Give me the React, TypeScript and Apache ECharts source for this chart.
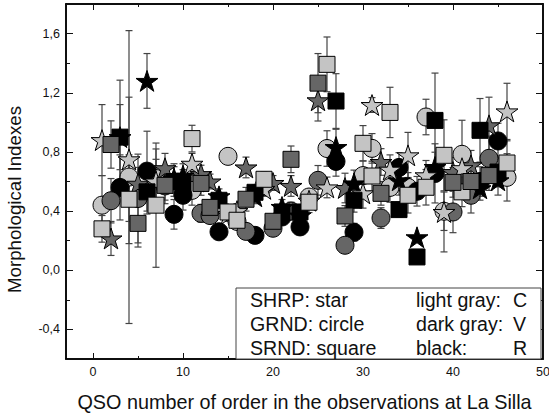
import React, { useEffect, useRef } from "react";
import * as echarts from "echarts";

const filters = ["L","D","K","L","D","K","L","D","K","K","L","D","D","K","L","L","D","K","L","D","K","D","K","L","D","L","K","D","K","L","L","D","L","K","L","K","L","K","L","D","L","D","K","D","K","L"];
const starValues = [0.88,0.215,0.9,0.75,0.585,1.28,0.6,0.69,0.62,0.64,0.72,0.65,0.6,0.5,0.38,0.4,0.695,0.5,0.55,0.59,0.428,0.57,0.37,0.47,1.149,0.56,0.833,0.556,0.587,0.52,1.117,0.732,0.68,0.608,0.777,0.223,0.642,0.698,0.394,0.664,0.69,0.71,0.554,0.98,0.608,1.074];
const starErrors = [0.24,0.115,0.385,0.42,0.11,0.185,0.15,0.1,0.1,0.08,0.07,0.06,0.05,0.05,0.05,0.05,0.07,0.05,0.05,0.05,0.05,0.07,0.05,0.04,0.14,0.07,0.12,0.1,0.09,0.1,0.05,0.09,0.1,0.1,0.155,0,0.1,0.1,0.27,0.1,0.12,0.1,0.08,0.19,0.1,0.19];
const circleValues = [0.44,0.47,0.56,0.63,0.485,0.67,0.62,0.57,0.378,0.507,0.54,0.385,0.37,0.26,0.77,0.33,0.263,0.236,0.57,0.284,0.36,0.4,0.293,0.495,0.608,0.823,0.736,0.169,0.257,0.64,0.824,0.353,0.56,0.695,0.56,0.534,1.036,0.655,0.399,0.394,0.784,0.507,0.6,0.757,0.874,0.628];
const circleErrors = [0.2,0.15,0.22,0.99,0.3,0.27,0.2,0.12,0.1,0.1,0.1,0.06,0.05,0.05,0.05,0.05,0.05,0.03,0.05,0.05,0.05,0.06,0.05,0.05,0.1,0.12,0.1,0.05,0.06,0.1,0.1,0.07,0.1,0.1,0.1,0.1,0.12,0.2,0.13,0.14,0.23,0.12,0.1,0.15,0.12,0.16];
const squareValues = [0.28,0.85,0.9,0.48,0.317,0.53,0.44,0.574,0.6,0.58,0.89,0.587,0.425,0.473,0.394,0.338,0.48,0.527,0.615,0.331,0.394,0.75,0.394,0.46,1.265,1.392,1.144,0.367,0.473,0.858,0.637,0.52,1.067,0.41,0.507,0.09,0.561,1.013,0.777,0.594,0.53,0.6,0.946,0.64,0.664,0.725];
const squareErrors = [0.09,0.16,0.22,0.3,0.16,0.15,0.42,0.1,0.1,0.1,0.09,0.08,0.05,0.05,0.05,0.05,0.08,0.05,0.05,0.04,0.05,0.09,0.05,0.07,0.2,0.185,0.185,0.07,0.08,0.12,0.1,0.08,0.17,0.05,0.12,0,0.12,0.32,0.24,0.1,0.1,0.1,0.215,0.1,0.1,0.15];

const xMajorTicks = [0,10,20,30,40,50];
const xMinorTicks = [5,15,25,35,45];
const yMajorTicks = [-0.4,0,0.4,0.8,1.2,1.6];
const yMinorTicks = [-0.6,-0.2,0.2,0.6,1.0,1.4,1.8];
const legendLeft = ["SHRP: star","GRND: circle","SRND: square"];
const legendMiddle = ["light gray:","dark gray:","black:"];
const legendRight = ["C","V","R"];

const FONT = "'Liberation Sans', Arial, sans-serif";
const colors: Record<string,string> = { L: "#c4c4c4", D: "#666666", K: "#000000" };
const STAR = "path://M50 0 L61.8 35.3 L98.9 35.3 L69 57.3 L80.3 92.7 L50 70.6 L19.7 92.7 L31 57.3 L1.1 35.3 L38.2 35.3 Z";
const shapes: Record<string,any> = {
  star: { values: starValues, errors: starErrors, symbol: STAR, size: 22 },
  circle: { values: circleValues, errors: circleErrors, symbol: "circle", size: 18 },
  square: { values: squareValues, errors: squareErrors, symbol: "rect", size: 16 },
};
const layers: [string,string][] = [
  ["circle","L"],["circle","K"],["circle","D"],
  ["star","D"],["star","K"],["star","L"],
  ["square","K"],["square","L"],["square","D"],
];

function rows(shape: string, filter: string) {
  const s = shapes[shape];
  const out: number[][] = [];
  filters.forEach((f, i) => { if (f === filter) out.push([i + 1, s.values[i], s.errors[i]]); });
  return out;
}

function errorRender(_p: any, api: any) {
  const x = api.value(0), y = api.value(1), e = api.value(2);
  if (!e) return { type: "group", children: [] };
  const top = api.coord([x, y + e]), bot = api.coord([x, y - e]);
  const st = { stroke: "#444", lineWidth: 1.2 };
  const cap = 3.5;
  return { type: "group", children: [
    { type: "line", shape: { x1: top[0], y1: top[1], x2: bot[0], y2: bot[1] }, style: st },
    { type: "line", shape: { x1: top[0]-cap, y1: top[1], x2: top[0]+cap, y2: top[1] }, style: st },
    { type: "line", shape: { x1: bot[0]-cap, y1: bot[1], x2: bot[0]+cap, y2: bot[1] }, style: st },
  ]};
}

function axis(base: any, position: string, ticks: number[], len: number, labels: boolean, isY: boolean, name?: any) {
  return {
    ...base, position, ...(name || {}),
    axisLine: { show: true, onZero: false, lineStyle: { color: "#000", width: 1.5 } },
    axisTick: { show: true, inside: true, length: len, customValues: ticks, lineStyle: { color: "#111", width: 1 } },
    axisLabel: labels
      ? { show: true, customValues: ticks, color: "#111", fontSize: 12.5, fontFamily: FONT, margin: 6,
          hideOverlap: false, showMinLabel: true, showMaxLabel: true,
          formatter: (v: number) => isY ? v.toFixed(1).replace(".", ",") : String(v) }
      : { show: false },
    splitLine: { show: false },
  };
}

export default function App() {
  const ref = useRef<HTMLDivElement>(null);
  useEffect(() => {
    const chart = echarts.init(ref.current!, undefined, { renderer: "svg" });
    const xBase = { type: "value", min: -3, max: 50 };
    const yBase = { type: "value", min: -0.6, max: 1.8 };
    const xName = { name: "QSO number of order in the observations at La Silla", nameLocation: "middle", nameGap: 33,
      nameTextStyle: { fontSize: 19.8, fontFamily: FONT, color: "#111" } };
    const yName = { name: "Morphological Indexes", nameLocation: "middle", nameGap: 42,
      nameTextStyle: { fontSize: 18.7, fontFamily: FONT, color: "#111", padding: [0, 36, 0, 0] } };
    const series: any[] = [];
    layers.forEach(([shape, filter]) => {
      const data = rows(shape, filter);
      series.push({ type: "custom", name: `${shape} ${filter} error`, data, renderItem: errorRender,
        encode: { x: 0, y: 1 }, silent: true, clip: false });
      series.push({ type: "scatter", name: `${shape} ${filter}`, data, symbol: shapes[shape].symbol,
        symbolSize: shapes[shape].size, symbolKeepAspect: true, silent: true,
        itemStyle: { color: colors[filter], opacity: 1, borderColor: "#000", borderWidth: 1 } });
    });
    const graphics: any[] = [
      { type: "rect", z: 100, silent: true, shape: { x: 236, y: 288, width: 305, height: 71 },
        style: { fill: "#fff", stroke: "#444", lineWidth: 1 } },
    ];
    const rowY = [300, 324, 348];
    const t = (text: string, x: number, y: number) => ({ type: "text", z: 101, x, y, silent: true,
      style: { text, fontSize: 19.6, fontFamily: FONT, fill: "#111", verticalAlign: "middle" } });
    rowY.forEach((y, i) => {
      graphics.push(t(legendLeft[i], 250, y), t(legendMiddle[i], 416, y), t(legendRight[i], 513, y));
    });
    chart.setOption({
      animation: false,
      grid: { left: 66, right: 6, top: 4, bottom: 58, outerBoundsMode: "none", containLabel: false },
      xAxis: [
        axis(xBase, "bottom", xMajorTicks, 6, true, false, xName),
        axis(xBase, "top", xMajorTicks, 6, false, false),
        axis(xBase, "bottom", xMinorTicks, 3, false, false),
        axis(xBase, "top", xMinorTicks, 3, false, false),
      ],
      yAxis: [
        axis(yBase, "left", yMajorTicks, 7, true, true, yName),
        axis(yBase, "right", yMajorTicks, 7, false, true),
        axis(yBase, "left", yMinorTicks, 4, false, true),
        axis(yBase, "right", yMinorTicks, 4, false, true),
      ],
      series,
      graphic: graphics,
    });
    return () => chart.dispose();
  }, []);
  return <div ref={ref} style={{ position: "absolute", left: 0, top: 0, width: 549, height: 417, background: "#fff" }} />;
}
